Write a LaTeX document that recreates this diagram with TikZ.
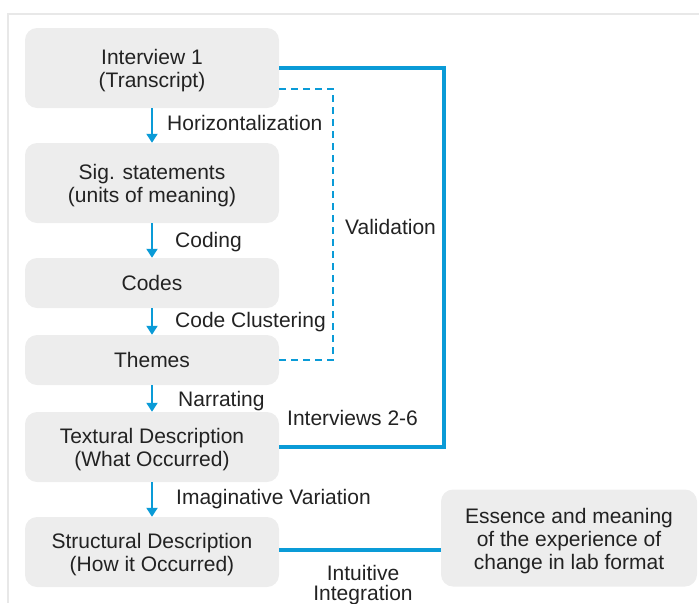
\documentclass[tikz,border=0pt]{standalone}
\usepackage{fontspec}
\setmainfont{Liberation Sans}
\usetikzlibrary{arrows.meta}
\definecolor{boxgray}{HTML}{EDEDED}
\definecolor{framegray}{HTML}{E8E8E8}
\definecolor{flowblue}{HTML}{0A9BD7}
\definecolor{inkgray}{HTML}{222222}
\begin{document}
\begin{tikzpicture}[x=1pt,y=-1pt,
  txt/.style={text=inkgray, font=\fontsize{21}{23}\selectfont, inner sep=0pt, align=center},
  stepbox/.style={fill=boxgray, rounded corners=12pt, minimum width=254pt, inner sep=0pt},
  boxtext/.style={label={[txt, yshift=-3pt]center:#1}},
  boxword/.style={label={[txt]center:#1}},
  flowarrow/.style={draw=flowblue, line width=2pt, -{Triangle[width=11pt,length=9pt]}},
  thickline/.style={draw=flowblue, line width=3.5pt},
  dashline/.style={draw=flowblue, line width=1.6pt, dash pattern=on 7pt off 5pt},
  lbl/.style={txt, text height=15pt, text depth=4pt}]
\useasboundingbox (0,0) rectangle (699,603);
% outer frame
\draw[framegray, line width=2pt] (8,603) -- (8,14) -- (699,14);

% process steps
\node[stepbox, minimum height=80pt, boxtext={Interview 1\\(Transcript)}] (b1) at (152,68) {};
\node[stepbox, minimum height=80pt, boxtext={Sig. statements\\(units of meaning)}] (b2) at (152,183) {};
\node[stepbox, minimum height=50pt, boxword={Codes}] (b3) at (152,283) {};
\node[stepbox, minimum height=50pt, boxword={Themes}] (b4) at (152,360) {};
\node[stepbox, minimum height=70pt, boxtext={Textural Description\\(What Occurred)}] (b5) at (152,447) {};
\node[stepbox, minimum height=70pt, boxtext={Structural Description\\(How it Occurred)}] (b6) at (152,552) {};
\node[stepbox, minimum width=256pt, minimum height=97pt,
  boxtext={Essence and meaning\\of the experience of\\change in lab format}] (b7) at (569,538) {};

% step arrows
\draw[flowarrow] (b1) -- (b2);
\draw[flowarrow] (b2) -- (b3);
\draw[flowarrow] (b3) -- (b4);
\draw[flowarrow] (b4) -- (b5);
\draw[flowarrow] (b5) -- (b6);

% arrow labels
\node[lbl, anchor=west] (l1) at (167,124.5) {Horizontalization};
\node[lbl, anchor=west] (l2) at (175,242) {Coding};
\node[lbl, anchor=west] (l3) at (175,322) {Code Clustering};
\node[lbl, anchor=west] (l4) at (178,401) {Narrating};
\node[lbl, anchor=west] (l5) at (176,499) {Imaginative Variation};

% repeat loop over interviews 2-6
\draw[thickline] (b1.east) -- ++(165,0) |- (b5.east);
\node[lbl, anchor=west] (l6) at (287,420) {Interviews 2-6};

% validation loop
\coordinate (v0) at ([yshift=-21pt]b1.east);
\draw[dashline] (v0) -- (333,89) |- (b4.east);
\node[lbl, anchor=west] (l7) at (345,229) {Validation};

% final integration
\draw[thickline] (b6.east |- 0,550) -- (b7.west |- 0,550);
\node[txt, font=\fontsize{21}{20}\selectfont] (l8) at (363,585) {Intuitive\\Integration};
\end{tikzpicture}
\end{document}
